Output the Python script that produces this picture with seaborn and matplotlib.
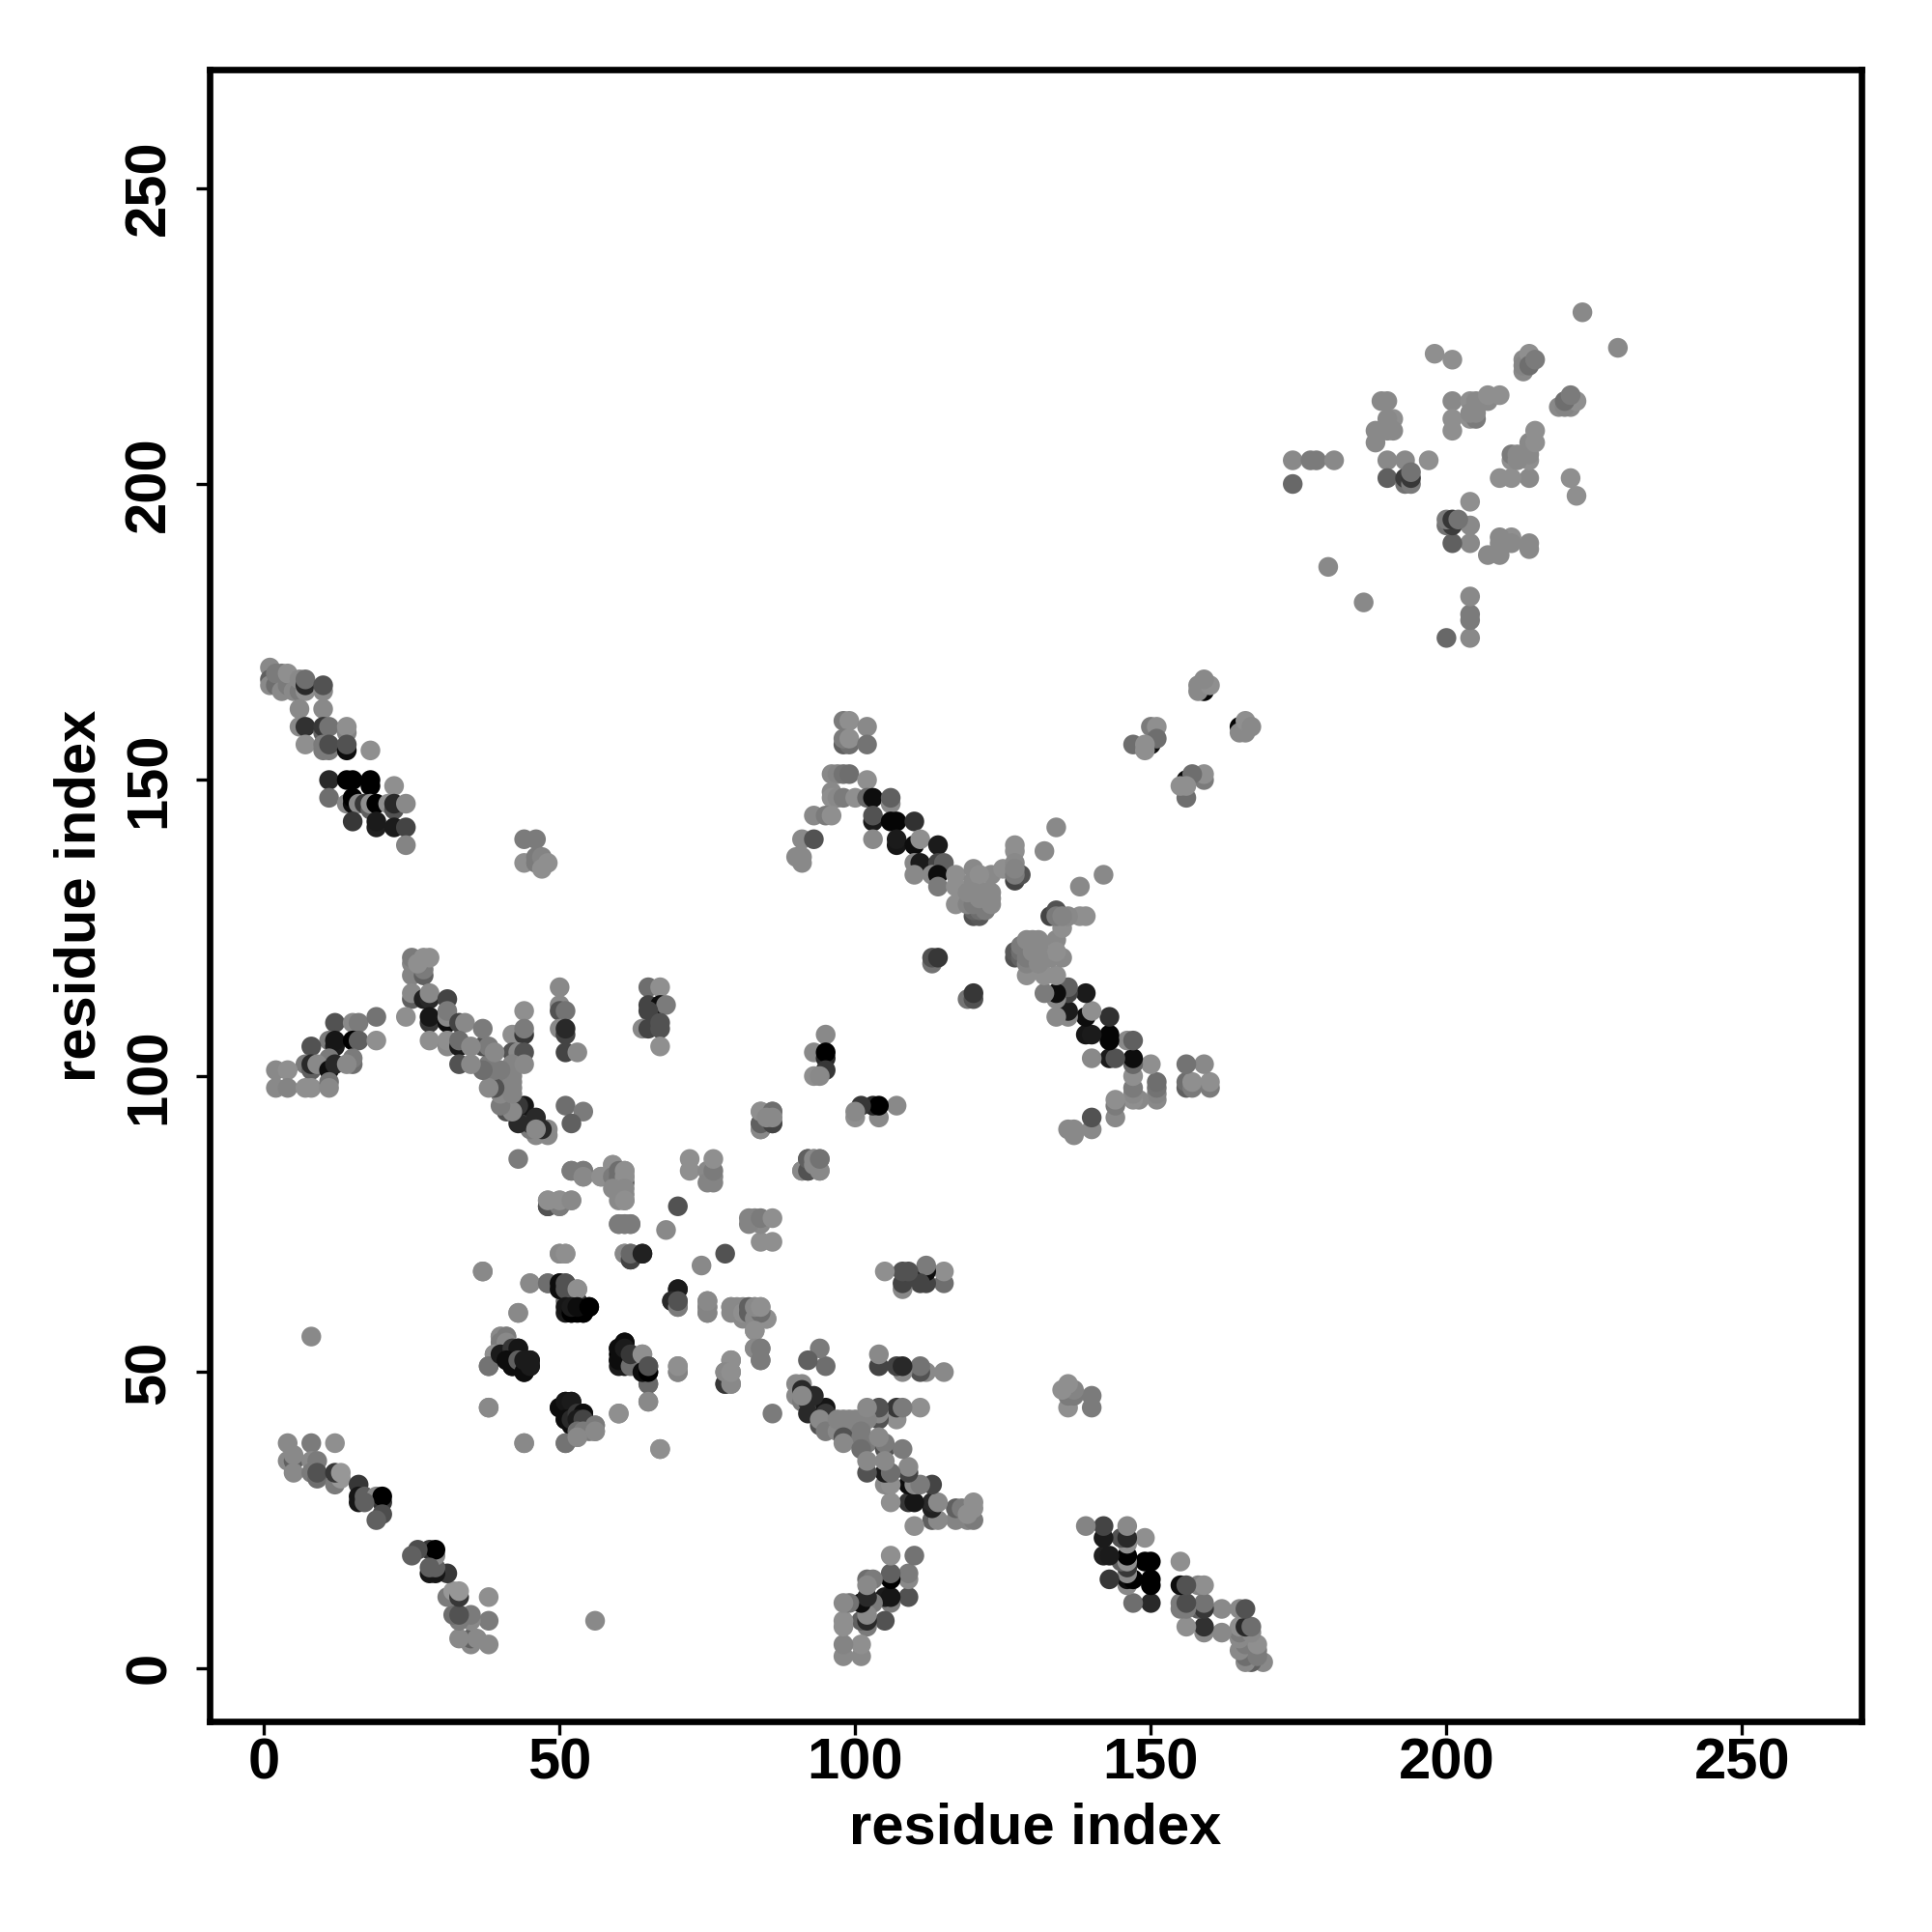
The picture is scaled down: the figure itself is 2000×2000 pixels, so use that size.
import pandas as pd
import matplotlib
matplotlib.use('Agg')
import matplotlib.pyplot as plt
import seaborn as sns

# contacts: (residue i, residue j, grey level), the map is symmetric
band_a = [(4,38,.5),(8,38,.45),(12,38,.52),(4,35,.5),(5,35,.35),(5,36,.5),(5,33,.5),(8,35,.5),(9,35,.45),
          (8,33,.45),(9,32,.4),(9,33,.3),(12,31,.45),(13,32,.55),(12,33,.2),(13,33,.55),(16,31,.2),(16,28,.08),
          (16,29,.08),(17,29,.35),(19,29,.5),(20,28,.2),(20,29,0),(20,26,.28),(19,25,.35),(8,56,.5),(17,28,.35)]
center_a = [(50,115,.5),(50,112,.5),(50,111,.3),(51,111,.42),(50,108,.5),(51,107,.25),(51,108,.15),(51,104,.25),
            (53,104,.5),(44,111,.52),(42,107,.52),(44,107,.2),(44,108,.45),(42,104,.3),(43,104,.5),(44,104,.3),
            (65,115,.4),(67,115,.52),(65,112,.25),(67,112,.05),(68,112,.45),(65,111,.25),(64,108,.5),(65,108,.25),
            (67,109,.3),(67,108,.3),(67,105,.52),(95,107,.5),(93,104,.5),(95,103,.15),(95,104,0),(95,101,.2),
            (93,100,.52),(94,100,.5),(51,95,.4),(54,94,.45),(52,92,.35),(43,86,.45)]
center_b = [(52,84,.45),(54,84,.45),(54,83,.5),(57,83,.52),(59,85,.52),(59,83,.45),(60,83,.4),(60,84,.4),(61,83,.52),
            (61,84,.52),(59,81,.5),(61,81,.5),(61,79,.52),(48,78,.3),(50,78,.45),(48,79,.52),(50,79,.52),(52,79,.5),
            (72,86,.52),(72,84,.52),(75,84,.5),(75,82,.48),(76,82,.48),(76,83,.48),(76,84,.45),(76,86,.52),(70,78,.3),
            (60,75,.45),(61,75,.45),(62,75,.45),(68,74,.5),(50,70,.5),(51,70,.52),(61,70,.5),(62,69,.25),(62,70,.38),
            (64,70,.12),(37,67,.5),(45,65,.5),(48,65,.4),(50,65,.05),(50,64,.05),(51,64,.3),(51,65,.3),(53,64,.52),
            (51,61,.08),(52,60,0),(53,60,0),(54,60,0),(52,61,.1),(53,61,.05),(55,61,0),(43,60,.5)]
center_c = [(70,64,.1),(69,62,.15),(70,61,.45),(70,62,.3),(75,60,.48),(75,61,.48),(75,62,.5),(79,60,.5),(79,61,.5),
            (80,61,.5),(81,60,.52),(82,60,.35),(82,61,.35),(83,59,.5),(85,59,.52),(84,60,.4),(83,61,.5),(84,61,.52),
            (83,57,.52),(83,54,.5),(84,54,.45),(84,52,.45),(79,52,.52),(78,48,.2),(79,48,.5),(78,50,.5),(79,50,.52),
            (70,50,.48),(70,51,.52),(84,91,.5),(84,92,.35),(84,94,.52),(86,92,.25),(86,94,.4),(86,93,.5),(85,93,.5),
            (91,84,.5),(92,84,.3),(94,84,.5),(92,86,.35),(93,85,.5),(93,86,.5),(94,86,.42)]
center_d = [(40,56,.5),(41,56,.45),(40,55,.45),(41,55,.5),(39,53,.52),(38,51,.42),(40,53,.1),(42,54,.2),(43,54,.08),
            (41,52,.05),(42,51,.05),(43,52,.35),(44,50,.05),(45,51,.1),(44,52,.1),(45,52,.1),
            (60,51,.1),(61,55,.05),(60,52,.05),(60,54,.05),(61,54,.1),(62,51,.4),(62,53,.2),(64,53,.52),(65,48,.38),
            (64,50,.05),(65,50,0),(65,51,.3),(65,45,.5),(38,44,.5),(50,44,.05),(51,45,.08),(52,45,.1),(51,42,.05),
            (52,42,.15),(53,43,.2),(54,43,.05),(53,42,.1),(54,42,.25),(53,40,.4),(54,40,.45),(56,41,.45),(56,40,.5),
            (44,38,.5),(51,38,.42),(53,39,.5),(60,43,.52),(67,37,.52)]
band_b = [(48,91,.5),(46,90,.5),(48,90,.5),(45,91,.45),(46,92,.2),(45,92,.2),(44,95,.08),(43,95,.2),(43,92,.15),(46,93,.15),(47,91,.15),
          (46,91,.5),(41,94,.3),(42,94,.5),(40,95,.45),(40,97,.5),(40,99,.45),(42,97,.48),(42,98,.48),(42,99,.48),
          (42,100,.48),(42,101,.48),(42,102,.48),(40,101,.45),(39,98,.3),(39,101,.45),(38,98,.5),(38,102,.45),
          (37,101,.4),(37,105,.3),(38,105,.45),(39,104,.5),(44,102,.5)]
helix_a = [(1,169,.5),(1,167,.35),(1,166,.5),(2,166,.4),(2,168,.45),(3,165,.5),(3,168,.45),(4,166,.45),(4,168,.52),
           (5,165,.5),(6,165,.45),(6,167,.5),(7,165,.52),(7,166,.15),(7,167,.4),(10,165,.5),(10,166,.3),(6,162,.5),
           (10,162,.5),(6,159,.5),(7,159,.18),(10,158,.35),(10,159,.2),(11,159,.42),(14,158,.48),(14,159,.52),
           (7,156,.52),(10,155,.45),(10,156,.45),(11,155,.45),(11,156,.28),(14,155,.05),(14,156,.3),(18,155,.52)]
helix_b = [(11,150,.15),(14,150,0),(15,150,0),(18,149,0),(18,150,0),(22,149,.52),(11,147,.4),(14,146,.5),(15,146,.05),
           (15,147,0),(16,146,.5),(17,146,.2),(18,145,.35),(18,146,.52),(19,146,0),(21,146,.52),(22,145,.3),(22,146,.15),
           (24,146,.5),(15,143,.2),(19,142,.12),(19,143,.1),(22,142,.1),(24,142,.25),(24,139,.48),
           (44,140,.45),(46,140,.45),(44,136,.52),(46,136,.45),(46,137,.45),(47,137,.48),(47,135,.52),(48,136,.52)]
upper_left = [(25,117,.48),(27,117,.35),(27,118,.45),(25,119,.48),(25,120,.45),(26,119,.52),(27,120,.52),(28,120,.52),
              (25,113,.35),(25,114,.5),(27,113,.12),(28,113,.15),(28,114,.5),(31,113,.25),(24,110,.52),(28,109,.2),
              (28,110,.08),(31,109,.05),(31,110,.5),(31,111,.45),(33,109,.25),(34,109,.5),(37,108,.45),(28,106,.52),
              (31,105,.5),(31,106,.52),(33,105,.1),(33,106,.4),(35,105,.5),(33,102,.3),(35,102,.5),
              (12,109,.3),(15,109,.5),(16,109,.45),(19,110,.42),(11,106,.45),(12,105,.1),(12,106,.08),(15,106,0),
              (16,106,.35),(19,106,.52),(8,105,.3),(11,103,.45),(15,102,.4),(15,103,.45),(7,102,.45),(8,101,.35),
              (8,102,.15),(9,102,.5),(11,101,.05),(12,102,.15),(14,102,.5),(2,101,.5),(4,101,.52),(2,98,.5),
              (4,98,.48),(7,98,.52),(8,98,.52),(11,99,.42),(11,98,.5)]
sheet_a = [(98,160,.45),(99,160,.52),(102,159,.5),(98,156,.35),(99,156,.4),(98,157,.45),(99,157,.52),(102,156,.42),
           (96,151,.5),(97,151,.48),(98,151,.42),(99,151,.4),(102,150,.52),(96,148,.5),(96,147,.52),(97,147,.5),
           (98,147,.45),(100,147,.52),(102,147,.38),(103,147,.05),(106,146,.5),(106,147,.35),(93,144,.5),(95,144,.45),
           (96,144,.52),(103,143,.1),(103,144,.3),(106,143,.02),(107,143,.02),(110,143,.18),(91,140,.5),(93,140,.3),
           (103,140,.5),(107,139,.08),(107,140,.1),(110,139,.05),(111,140,.52),(114,139,.1),(90,137,.5),(91,137,.5),
           (91,136,.5),(110,136,.5),(111,136,.1),(114,136,.25),(115,136,.35),(110,134,.5),(113,134,.5),(114,134,.05),
           (114,132,.45)]
sheet_b = [(120,127,.3),(121,127,.32),(120,128,.36),(121,128,.4),(117,134,.52),(120,135,.5),(123,134,.5),(117,132,.52),(120,133,.5),(121,134,.52),(125,135,.52),(127,139,.52),
           (127,138,.52),(127,136,.5),(127,133,.25),(128,134,.3),(127,134,.45),(127,135,.48),(132,138,.5),(134,142,.5),
           (117,129,.52),(119,129,.48),(122,128,.45),(120,129,.45),
           (123,129,.5),(119,131,.5),(120,131,.5),(122,131,.5),(123,131,.5),(121,130,.5),(123,130,.5),
           (113,119,.42),(113,120,.3),(114,120,.2)]
sheet_c = [(159,165,.02),(159,166,.05),(150,156,.05),(158,165,.5),(158,166,.5),(160,166,.52),(159,167,.5),(150,159,.45),(151,159,.52),
           (151,157,.4),(147,156,.4),(149,155,.52),(149,156,.52)]
domain_c = [(174,204,.5),(174,200,.38),(177,204,.45),(178,204,.45),(181,204,.5),(180,186,.5),(198,222,.52),(201,221,.52),
            (223,229,.5),(189,214,.5),(190,214,.5),(191,211,.52),(190,211,.5),(188,209,.5),(189,209,.5),(190,209,.5),(191,209,.5),
            (188,207,.5),(190,204,.5),(193,204,.5),(197,204,.52),(190,201,.35),(193,200,.42),(193,201,.22),(194,200,.45),
            (194,201,.2),(194,202,.42),(201,214,.5),(201,211,.52),(201,209,.52),(204,214,.52),(205,214,.5),(204,211,.52),
            (205,211,.45),(204,212,.5),(205,212,.5),(207,214,.5),(207,215,.52),(209,215,.52),(213,221,.5),(213,219,.5),
            (213,220,.48),(214,222,.52),(214,220,.4),(215,221,.45)]

contacts = (band_a + center_a + center_b + center_c + center_d + band_b + helix_a + helix_b + upper_left
            + sheet_a + sheet_b + sheet_c + domain_c)

x_ticks = [0, 50, 100, 150, 200, 250]

df = pd.DataFrame(contacts, columns=['i', 'j', 'grey'])
mirror = df.rename(columns={'i': 'j', 'j': 'i'})
df = pd.concat([mirror, df], ignore_index=True)

sns.set_theme(style='white')
plt.rcParams['font.family'] = ['Liberation Sans', 'DejaVu Sans']
plt.rcParams['font.weight'] = 'bold'

fig = plt.figure(figsize=(10, 10), dpi=200)
ax = fig.add_axes([0.1085, 0.109, 0.855, 0.855])

sns.scatterplot(data=df, x='i', y='j', hue='grey', palette='gray', hue_norm=(0, 0.93),
                s=54, linewidth=0, legend=False, ax=ax)

ax.set_xlim(-9.2, 270.2)
ax.set_ylim(-9, 270)
ax.set_xticks(x_ticks)
ax.set_yticks(x_ticks)
ax.tick_params(axis='x', direction='out', length=5, width=1.2, color='black', labelsize=21.5,
               labelcolor='black', pad=1, bottom=True)
ax.tick_params(axis='y', direction='out', length=5, width=1.2, color='black', labelsize=21.5,
               labelcolor='black', pad=7.3, left=True)
for t in ax.get_yticklabels():
    t.set_rotation(90)
    t.set_va('center')
ax.set_xlabel('residue index', fontsize=21.5, fontweight='bold', color='black', labelpad=4.4)
ax.set_ylabel('residue index', fontsize=21.5, fontweight='bold', color='black', labelpad=6.1)
for s in ax.spines.values():
    s.set_linewidth(2.4)
    s.set_color('black')

fig.savefig('out.png', dpi=200)
